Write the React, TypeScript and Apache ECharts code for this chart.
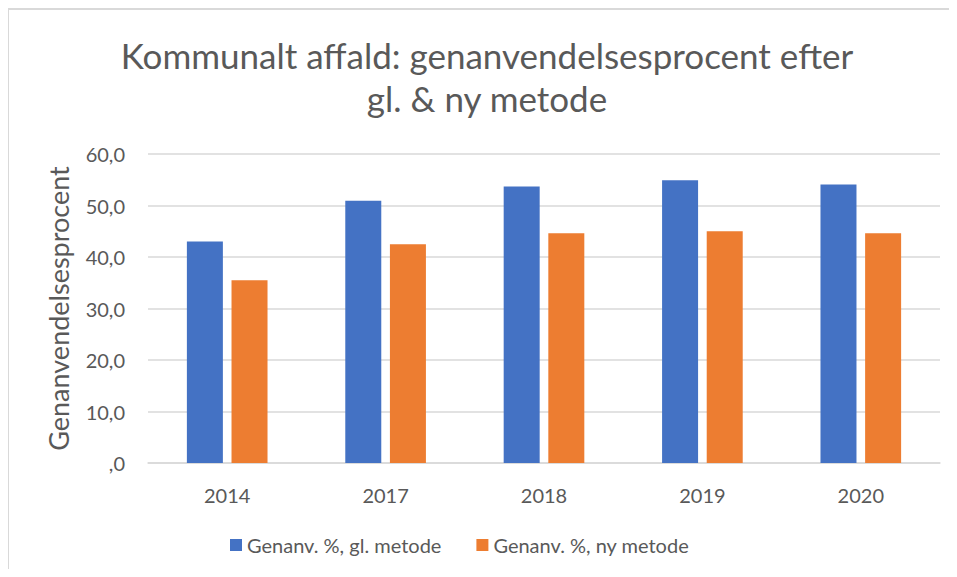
import React, { useEffect, useRef } from "react";
import * as echarts from "echarts";

const categories = ["2014", "2017", "2018", "2019", "2020"];
const oldMethod = [43.0, 50.9, 53.7, 54.9, 54.1];
const newMethod = [35.5, 42.5, 44.6, 45.0, 44.6];
const seriesNames = ["Genanv. %, gl. metode", "Genanv. %, ny metode"];
const yTicks = { min: 0, max: 60, interval: 10 };

const FONT = "Lato, 'Open Sans', sans-serif";
const TXT = "#595959";

export default function App() {
  const ref = useRef<HTMLDivElement>(null);
  useEffect(() => {
    const chart = echarts.init(ref.current!, null, { renderer: "svg" });
    chart.setOption({
      animation: false,
      backgroundColor: "#ffffff",
      textStyle: { fontFamily: FONT },
      title: {
        text: "Kommunalt affald: genanvendelsesprocent efter\ngl. & ny metode",
        left: 482,
        textAlign: "center",
        top: 28,
        textStyle: { fontFamily: FONT, fontSize: 35, fontWeight: "normal", color: TXT, lineHeight: 43 },
      },
      graphic: [
        {
          type: "rect",
          shape: { x: 8, y: 9, width: 1200, height: 1200 },
          style: { fill: "none", stroke: "#d9d9d9", lineWidth: 2 },
          silent: true,
        },
      ],
      legend: {
        bottom: 17,
        left: 225,
        itemWidth: 12,
        itemHeight: 12,
        itemGap: 35,
        icon: "rect",
        textStyle: { fontFamily: FONT, fontSize: 20, color: TXT },
      },
      grid: { left: 148, right: 17, top: 154, bottom: 114, containLabel: false },
      xAxis: {
        type: "category",
        data: categories,
        axisLine: { lineStyle: { color: "#d9d9d9", width: 1.5 } },
        axisTick: { show: false },
        axisLabel: { fontFamily: FONT, fontSize: 20, color: TXT, margin: 22 },
      },
      yAxis: {
        type: "value",
        min: yTicks.min,
        max: yTicks.max,
        interval: yTicks.interval,
        name: "Genanvendelsesprocent",
        nameLocation: "middle",
        nameRotate: 90,
        nameGap: 76,
        nameTextStyle: { fontFamily: FONT, fontSize: 27, color: TXT },
        axisLine: { show: false },
        axisTick: { show: false },
        splitLine: { lineStyle: { color: "#d9d9d9", width: 1.5 } },
        axisLabel: {
          fontFamily: FONT,
          fontSize: 20,
          color: TXT,
          margin: 23,
          formatter: (v: number) => (v === 0 ? ",0" : v.toFixed(1).replace(".", ",")),
        },
      },
      series: [
        {
          name: seriesNames[0],
          type: "bar",
          data: oldMethod,
          barWidth: 36,
          barGap: "24%",
          itemStyle: { color: "#4472c4" },
        },
        {
          name: seriesNames[1],
          type: "bar",
          data: newMethod,
          barWidth: 36,
          barGap: "24%",
          itemStyle: { color: "#ed7d31" },
        },
      ],
    });
    return () => chart.dispose();
  }, []);
  return <div ref={ref} style={{ width: 957, height: 577, margin: -8 }} />;
}
